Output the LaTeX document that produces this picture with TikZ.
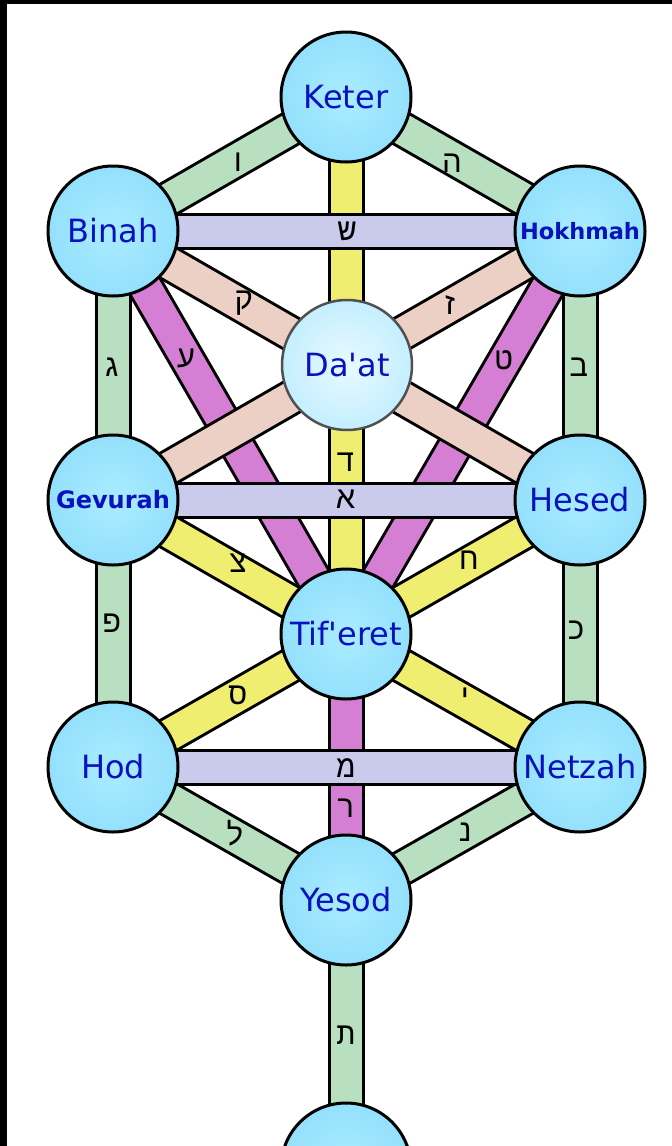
\documentclass[tikz,border=0pt]{standalone}
\usepackage{fontspec}
\newfontfamily\lbl{DejaVu Sans}
\newfontfamily\heb{Liberation Mono}
\pgfdeclarelayer{bg}
\pgfdeclarelayer{bars}
\pgfsetlayers{bg,bars,main}
\definecolor{pgreen}{RGB}{184,224,192}
\definecolor{plav}{RGB}{202,202,236}
\definecolor{pyel}{RGB}{240,238,112}
\definecolor{pmag}{RGB}{212,126,212}
\definecolor{ppink}{RGB}{236,208,198}
\definecolor{sfillin}{RGB}{170,236,255}
\definecolor{sfillout}{RGB}{148,224,252}
\definecolor{dfillin}{RGB}{232,250,255}
\definecolor{dfillout}{RGB}{196,238,255}
\definecolor{stext}{RGB}{10,18,190}
\definecolor{dline}{RGB}{80,80,80}
\begin{document}
\begin{tikzpicture}[x=1pt,y=-1pt,
  seph/.style={circle,draw=black,line width=3pt,minimum size=130pt,inner sep=0pt,
    inner color=sfillin,outer color=sfillout,text=stext,
    font=\lbl\fontsize{32}{32}\selectfont},
  daat/.style={seph,draw=dline,line width=2.5pt,inner color=dfillin,outer color=dfillout},
  smallbold/.style={font=\lbl\bfseries\fontsize{#1}{#1}\selectfont},
  bar/.style={draw=black,line width=3pt,double=#1,double distance=31pt},
  hl/.style={font=\heb\fontsize{31}{31}\selectfont,inner sep=0pt,text=black}
]
\useasboundingbox (0,0) rectangle (672,1146);
\begin{pgfonlayer}{bg}
  \fill[white] (0,0) rectangle (672,1146);
  \fill[black] (0,0) rectangle (7,1146);
  \fill[black] (0,0) rectangle (672,4);
\end{pgfonlayer}

% sephirot
\node[seph] (keter)   at (346,97)  {Keter};
\node[seph] (binah)   at (113,231) {Binah};
\node[seph,smallbold=22.5] (hokhmah) at (580,231) {Hokhmah};
\node[daat] (daat)    at (347,365) {Da{\char39}at};
\node[seph,smallbold=24] (gevurah) at (113,500) {Gevurah};
\node[seph] (hesed)   at (580,500) {Hesed};
\node[seph] (tiferet) at (346,634) {Tif{\char39}eret};
\node[seph] (hod)     at (113,767) {Hod};
\node[seph] (netzah)  at (580,767) {Netzah};
\node[seph] (yesod)   at (346,900) {Yesod};
\node[seph] (malkhut) at (346,1168) {};

% paths
\begin{pgfonlayer}{bars}
  \foreach \a/\b in {keter/binah,keter/hokhmah,binah/gevurah,hokhmah/hesed,
      gevurah/hod,hesed/netzah,hod/yesod,netzah/yesod,yesod/malkhut}
    \draw[bar=pgreen] (\a.center) -- (\b.center);
  \foreach \a/\b in {keter/tiferet,gevurah/tiferet,hesed/tiferet,hod/tiferet,netzah/tiferet}
    \draw[bar=pyel] (\a.center) -- (\b.center);
  \foreach \a/\b in {binah/tiferet,hokhmah/tiferet,tiferet/yesod}
    \draw[bar=pmag] (\a.center) -- (\b.center);
  \foreach \a/\b in {binah/hesed,hokhmah/gevurah}
    \draw[bar=ppink] (\a.center) -- (\b.center);
  \foreach \a/\b in {binah/hokhmah,gevurah/hesed,hod/netzah}
    \draw[bar=plav] (\a.center) -- (\b.center);
\end{pgfonlayer}

% letters
\node[hl] (l1)  at (238,162) {ו};
\node[hl] (l2)  at (452,163) {ה};
\node[hl] (l3)  at (347,231) {ש};
\node[hl] (l4)  at (244,303) {ק};
\node[hl] (l5)  at (450,305) {ז};
\node[hl] (l6)  at (186,358) {ע};
\node[hl] (l7)  at (504,360) {ט};
\node[hl] (l8)  at (112,367) {ג};
\node[hl] (l9)  at (579,367) {ב};
\node[hl] (l10) at (346,462) {ד};
\node[hl] (l11) at (346,499) {א};
\node[hl] (l12) at (238,563) {צ};
\node[hl] (l13) at (469,560) {ח};
\node[hl] (l14) at (112,623) {פ};
\node[hl] (l15) at (576,630) {כ};
\node[hl] (l16) at (238,695) {ס};
\node[hl] (l17) at (465,697) {י};
\node[hl] (l18) at (346,768) {מ};
\node[hl] (l19) at (346,808) {ר};
\node[hl] (l20) at (235,833) {ל};
\node[hl] (l21) at (465,832) {נ};
\node[hl] (l22) at (346,1035) {ת};
\end{tikzpicture}
\end{document}
